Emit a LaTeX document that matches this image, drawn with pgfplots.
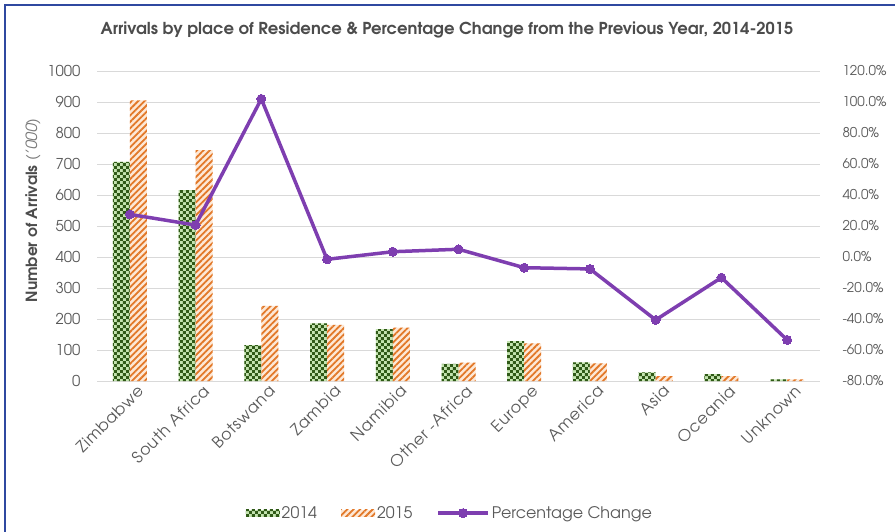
\documentclass[border=0pt]{standalone}
\usepackage{pgfplots}
\pgfplotsset{compat=1.18}
\usepackage{fontspec}
\setmainfont{texgyreadventor}[Extension=.otf, UprightFont=*-regular, BoldFont=*-bold, ItalicFont=*-italic, BoldItalicFont=*-bolditalic]
\usetikzlibrary{patterns,patterns.meta}
\definecolor{dkgreen}{RGB}{48,90,24}
\definecolor{ltgreen}{RGB}{196,228,176}
\definecolor{orng}{RGB}{226,120,40}
\definecolor{ltorng}{RGB}{253,232,214}
\definecolor{purp}{RGB}{126,62,176}
\definecolor{gridc}{RGB}{217,217,217}
\definecolor{txt}{RGB}{89,89,89}
\definecolor{framec}{RGB}{47,72,160}
\pgfdeclarepatternformonly{mycheck}{\pgfpointorigin}{\pgfqpoint{6.4bp}{6.4bp}}{\pgfqpoint{6.4bp}{6.4bp}}{
 \pgfpathrectangle{\pgfpointorigin}{\pgfqpoint{3.2bp}{3.2bp}}
 \pgfpathrectangle{\pgfqpoint{3.2bp}{3.2bp}}{\pgfqpoint{3.2bp}{3.2bp}}
 \pgfusepath{fill}}
\pgfplotsset{
  s2014/.style={draw=none, fill=ltgreen, postaction={pattern=mycheck, pattern color=dkgreen}},
  s2015/.style={draw=none, fill=ltorng, postaction={pattern={Lines[angle=45,distance=4.5bp,line width=1.8bp]}, pattern color=orng}},
  barleg/.style={legend image code/.code={\path[##1] (0bp,-3.5bp) rectangle (34bp,3.5bp);}},
  lineleg/.style={legend image code/.code={\draw[mark repeat=2,mark phase=2,##1] plot coordinates {(0bp,0bp) (25bp,0bp) (50bp,0bp)};}},
}
\begin{document}
\begin{tikzpicture}
\useasboundingbox (0,0) rectangle (895bp,532bp);
\draw[framec, line width=2bp] (5bp,0) -- (5bp,527bp) -- (895bp,527bp);
\node[font=\bfseries\fontsize{16.5}{18}\selectfont, text=txt!85!black] at (447bp,502bp) {Arrivals by place of Residence \& Percentage Change from the Previous Year, 2014-2015};
\begin{axis}[
  at={(97bp,151bp)}, anchor=south west, scale only axis, width=723bp, height=310bp,
  ybar=0pt, bar width=17bp,
  xmin=-0.5, xmax=10.5, ymin=0, ymax=1000,
  xtick={0,...,10},
  xticklabels={Zimbabwe,South Africa,Botswana,Zambia,Namibia,Other -Africa,Europe,America,Asia,Oceania,Unknown},
  ytick={0,100,...,1000},
  ymajorgrids, grid style={gridc, line width=0.8bp},
  axis line style={draw=none}, major tick length=0pt,
  tick label style={text=txt, font=\fontsize{15}{17}\selectfont},
  xticklabel style={rotate=45, anchor=north east, font=\fontsize{16}{17}\selectfont\addfontfeature{LetterSpace=5}, xshift=6bp, yshift=-3bp},
  yticklabel style={xshift=-13bp},
  /pgf/number format/assume math mode=true, /pgf/number format/1000 sep={},
  ylabel={{\bfseries Number of Arrivals} {\itshape\color{txt!80}('000)}},
  ylabel style={at={(axis description cs:-0.0885,0.55)}, anchor=center, font=\fontsize{15.5}{17}\selectfont, text=txt!85!black},
]
\addplot[s2014] coordinates {(0,707) (1,616) (2,116) (3,186) (4,167) (5,55) (6,129) (7,60) (8,28) (9,22) (10,5)};
\addplot[s2015] coordinates {(0,905) (1,745) (2,242) (3,181) (4,172) (5,59) (6,121) (7,57) (8,16) (9,16) (10,5)};
\end{axis}
\begin{axis}[
  at={(97bp,151bp)}, anchor=south west, scale only axis, width=723bp, height=310bp,
  xmin=-0.5, xmax=10.5, ymin=-80, ymax=120,
  axis x line=none, axis y line*=right,
  ytick={-80,-60,-40,-20,0,20,40,60,80,100,120},
  axis line style={draw=none}, major tick length=0pt,
  tick label style={text=txt, font=\fontsize{13.5}{16}\selectfont},
  yticklabel style={xshift=19bp},
  /pgf/number format/assume math mode=true,
  yticklabel={\pgfmathprintnumber[fixed,fixed zerofill,precision=1]{\tick}\%},
  legend style={draw=none, fill=none, at={(0.488,-0.426)}, anchor=center, legend columns=3,
    font=\fontsize{16}{18}\selectfont, text=txt,
    /tikz/every even column/.append style={column sep=22bp}},
  legend cell align=left,
]
\addlegendimage{s2014, barleg}
\addlegendentry{2014}
\addlegendimage{s2015, barleg}
\addlegendentry{2015}
\addplot[purp, line width=3.5bp, mark=*, mark size=4.5bp, mark options={fill=purp, draw=purp, line width=0pt}, lineleg]
  coordinates {(0,27.5) (1,20.6) (2,102) (3,-1.5) (4,3.4) (5,5) (6,-6.9) (7,-7.7) (8,-40.6) (9,-13.3) (10,-53.5)};
\addlegendentry{Percentage Change}
\end{axis}
\end{tikzpicture}
\end{document}
